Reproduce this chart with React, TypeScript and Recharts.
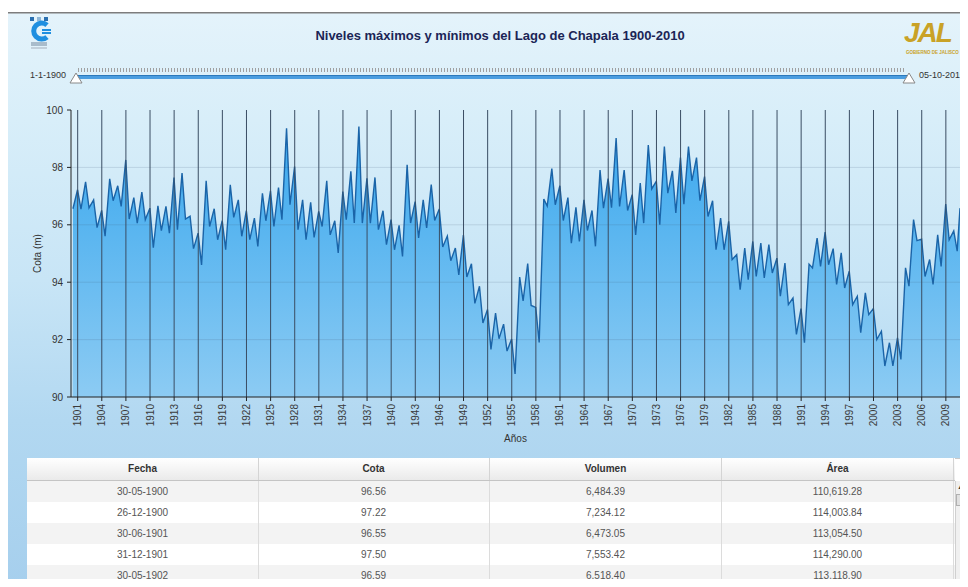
import React from "react";
import { Area, AreaChart, ReferenceLine, XAxis, YAxis } from "recharts";

// Niveles del lago: mínimo (fin de mayo) y máximo (diciembre) de cada año, desde 1900
const firstYear = 1900;
const minDate = "30-05";
const maxDate = "26-12";
const lastDate = "05-10-2010";

const minLevels = [
  96.56, 96.55, 96.59, 95.9, 95.6, 96.84, 96.64, 96.2, 96.06, 96.18, // 1900
  95.2, 95.8, 95.71, 95.83, 96.2, 95.17, 94.6, 95.94, 95.48, 95.13, // 1910
  96.26, 95.6, 95.48, 95.25, 96.14, 95.94, 96.18, 96.7, 95.83, 95.48, // 1920
  95.56, 95.94, 95.65, 95.02, 96.18, 96.06, 96.06, 96.06, 95.83, 95.31, // 1930
  95.13, 94.9, 96.06, 95.54, 95.89, 96.15, 95.23, 94.75, 94.25, 94.18, // 1940
  93.26, 92.58, 91.66, 92.03, 91.6, 90.8, 93.35, 93.19, 91.9, 96.65, // 1950
  96.7, 96.15, 95.36, 95.42, 95.8, 95.25, 96.58, 96.6, 96.64, 96.5, // 1960
  95.65, 96.06, 97.25, 96.0, 97.1, 96.41, 96.72, 97.53, 96.84, 96.29, // 1970
  95.13, 95.13, 94.79, 93.74, 94.09, 94.2, 94.15, 94.32, 93.51, 93.22, // 1980
  92.18, 91.89, 94.5, 94.55, 94.61, 93.92, 93.8, 93.22, 92.24, 92.87, // 1990
  92.0, 91.08, 91.08, 91.31, 93.86, 95.45, 94.2, 93.92, 94.55, 95.48, // 2000
  95.08, // 2010
];

const maxLevels = [
  97.22, 97.5, 96.87, 96.5, 97.6, 97.36, 98.26, 96.95, 97.14, 96.58, // 1900
  96.66, 96.64, 97.65, 97.8, 96.3, 95.71, 97.53, 96.56, 96.14, 97.39, // 1910
  96.87, 96.49, 96.23, 97.1, 97.18, 97.3, 99.36, 98.03, 96.87, 96.78, // 1920
  96.47, 97.53, 96.14, 97.16, 97.86, 99.42, 97.62, 97.65, 96.49, 96.18, // 1930
  95.98, 98.09, 96.81, 96.87, 97.4, 96.55, 95.61, 95.19, 95.64, 94.64, // 1940
  93.86, 93.05, 92.92, 92.54, 92.02, 94.18, 94.65, 93.12, 96.9, 97.96, // 1950
  97.36, 96.95, 96.61, 96.87, 96.5, 97.91, 97.61, 99.02, 97.91, 97.05, // 1960
  97.45, 98.78, 97.52, 98.73, 97.88, 98.34, 98.73, 98.34, 97.68, 96.84, // 1970
  96.23, 96.12, 94.96, 95.19, 95.42, 95.36, 95.31, 94.84, 94.67, 93.45, // 1980
  93.08, 94.63, 95.54, 95.75, 95.17, 95.02, 94.38, 93.51, 93.63, 93.08, // 1990
  92.29, 91.89, 92.06, 94.5, 96.18, 95.5, 94.79, 95.65, 96.72, 95.79, // 2000
  96.58, // 2010
];

const yearTicks = [
  1901, 1904, 1907, 1910, 1913, 1916, 1919, 1922, 1925, 1928, 1931, 1934, 1937,
  1940, 1943, 1946, 1949, 1952, 1955, 1958, 1961, 1964, 1967, 1970, 1973, 1976,
  1979, 1982, 1985, 1988, 1991, 1994, 1997, 2000, 2003, 2006, 2009,
];
const cotaTicks = [90, 92, 94, 96, 98, 100];

// tabla inferior
const tableHeaders = ["Fecha", "Cota", "Volumen", "Área"];
const tableFechas = ["30-05-1900", "26-12-1900", "30-06-1901", "31-12-1901", "30-05-1902"];
const tableCotas = ["96.56", "97.22", "96.55", "97.50", "96.59"];
const tableVolumenes = ["6,484.39", "7,234.12", "6,473.05", "7,553.42", "6,518.40"];
const tableAreas = ["110,619.28", "114,003.84", "113,054.50", "114,290.00", "113,118.90"];

const toYearFraction = (date: string) => {
  const [d, m, y] = date.split("-").map(Number);
  return y + (m - 1 + (d - 1) / 31) / 12;
};

const data: { t: number; cota: number }[] = [];
minLevels.forEach((v, i) => {
  const year = firstYear + i;
  data.push({ t: toYearFraction(`${minDate}-${year}`), cota: v });
  const maxAt = i === maxLevels.length - 1 ? lastDate : `${maxDate}-${year}`;
  data.push({ t: toYearFraction(maxAt), cota: maxLevels[i] });
});

const FONT = "'Liberation Sans', Arial, sans-serif";

const YearTick = (props: any) => {
  const { x, y, payload } = props;
  return (
    <text
      x={x}
      y={y}
      dy="0.35em"
      transform={`rotate(-90 ${x} ${y})`}
      textAnchor="end"
      fontSize={10}
      fill="#3a3a3a"
      fontFamily={FONT}
    >
      {payload.value}
    </text>
  );
};

const CotaLabel = (props: any) => {
  const vb = props.viewBox || { x: 0, y: 110, width: 71, height: 287 };
  const cx = vb.x + 37;
  const cy = vb.y + vb.height / 2;
  return (
    <text x={cx} y={cy} transform={`rotate(-90 ${cx} ${cy})`} textAnchor="middle" dy="0.35em" fontSize={10} fill="#333" fontFamily={FONT}>
      Cota (m)
    </text>
  );
};

const colLefts = [27, 258, 490, 722];
const colWidth = 232;

export default function App() {
  const rows = tableFechas.map((f, i) => [f, tableCotas[i], tableVolumenes[i], tableAreas[i]]);

  return (
    <div
      style={{
        position: "relative",
        width: 968,
        height: 587,
        margin: -8,
        overflow: "hidden",
        fontFamily: FONT,
        background:
          "linear-gradient(180deg, #ffffff 0px, #ffffff 12px, #7d7d7d 12px, #7d7d7d 13px, #e4f3fb 14px, #d8eef9 120px, #c8e5f6 280px, #b2d8f1 420px, #a6cfed 587px)",
      }}
    >
      {/* logo izquierdo */}
      <svg style={{ position: "absolute", left: 28, top: 16 }} width={26} height={36}>
        <rect x={2} y={1} width={4} height={4} fill="#2a6fb0" />
        <rect x={9} y={1} width={4} height={4} fill="#8fb7d8" />
        <rect x={16} y={1} width={4} height={4} fill="#2a6fb0" />
        <path d="M19 9 A8 8 0 1 0 19 21" stroke="#1f8fe0" strokeWidth={5} fill="none" />
        <rect x={14} y={13} width={9} height={2} fill="#1f8fe0" />
        <rect x={14} y={16} width={9} height={2} fill="#1f8fe0" />
        <rect x={3} y={26} width={16} height={4} fill="#a9bccb" />
        <rect x={3} y={31} width={16} height={2} fill="#c2d0db" />
      </svg>

      {/* logo derecho */}
      <div style={{ position: "absolute", left: 904, top: 18, color: "#c9a227", fontWeight: 900, fontStyle: "italic", fontSize: 28, letterSpacing: -2, lineHeight: "30px" }}>
        JAL
      </div>
      <div style={{ position: "absolute", left: 906, top: 50, color: "#c9a227", fontSize: 4.5, fontWeight: 700, whiteSpace: "nowrap" }}>
        GOBIERNO DE JALISCO
      </div>

      <div style={{ position: "absolute", left: 0, width: 1000, top: 28, textAlign: "center", fontSize: 13, fontWeight: 700, color: "#1b2556" }}>
        Niveles máximos y mínimos del Lago de Chapala 1900-2010
      </div>

      {/* control de rango */}
      <div style={{ position: "absolute", left: 30, top: 70, fontSize: 9, color: "#333" }}>1-1-1900</div>
      <div style={{ position: "absolute", left: 919, top: 70, fontSize: 9, color: "#333", whiteSpace: "nowrap" }}>05-10-2010</div>
      <div
        style={{
          position: "absolute",
          left: 78,
          top: 68,
          width: 828,
          height: 4,
          background: "repeating-linear-gradient(90deg, #a0a0a0 0px, #a0a0a0 1px, transparent 1px, transparent 3px)",
        }}
      />
      <div style={{ position: "absolute", left: 76, top: 75, width: 832, height: 3, background: "#4a9de0", borderTop: "1px solid #2a78bb" }} />
      <svg style={{ position: "absolute", left: 69, top: 72 }} width={14} height={12}>
        <polygon points="7,1 13,11 1,11" fill="#fff" stroke="#888" />
      </svg>
      <svg style={{ position: "absolute", left: 902, top: 72 }} width={14} height={12}>
        <polygon points="7,1 13,11 1,11" fill="#fff" stroke="#888" />
      </svg>

      <div style={{ position: "absolute", left: 0, top: 0 }}>
        <AreaChart width={968} height={450} data={data} margin={{ top: 110, right: 8, bottom: 0, left: 0 }}>
          <defs>
            <linearGradient id="cotaFill" x1="0" y1="0" x2="0" y2="1">
              <stop offset="0%" stopColor="#3aa8ee" />
              <stop offset="100%" stopColor="#8ccbf3" />
            </linearGradient>
          </defs>
          <XAxis
            dataKey="t"
            type="number"
            domain={[1900.17, "dataMax"]}
            ticks={yearTicks}
            interval={0}
            height={53}
            tick={(p: any) => <YearTick {...p} />}
            tickSize={4}
            tickMargin={3}
            stroke="#222"
            label={{ value: "Años", position: "insideBottom", offset: 8, fontSize: 10, fill: "#333" }}
          />
          <YAxis
            type="number"
            domain={[90, 100]}
            ticks={cotaTicks}
            width={71}
            tickSize={4}
            tickMargin={4}
            stroke="#222"
            tick={{ fontSize: 10, fill: "#333", fontFamily: FONT }}
            label={{ content: (p: any) => <CotaLabel {...p} /> }}
          />
          <Area
            type="linear"
            dataKey="cota"
            stroke="#1a64a8"
            strokeWidth={1.4}
            fill="url(#cotaFill)"
            fillOpacity={1}
            dot={false}
            activeDot={false}
            isAnimationActive={false}
          />
          {cotaTicks.slice(1, -1).map((v) => (
            <ReferenceLine key={`h${v}`} y={v} stroke="rgba(60,85,110,0.16)" strokeWidth={1} />
          ))}
          {yearTicks.map((yr) => (
            <ReferenceLine key={`v${yr}`} x={yr} stroke="#3a4d63" strokeWidth={1} />
          ))}
        </AreaChart>
      </div>

      {/* tabla */}
      <div style={{ position: "absolute", left: 27, top: 458, width: 941, height: 140, background: "#fff", border: "1px solid #c9c9c9", boxSizing: "border-box" }} />
      <div style={{ position: "absolute", left: 27, top: 458, width: 928, height: 22, background: "linear-gradient(180deg, #ffffff, #eaeaea)", borderBottom: "1px solid #c4c4c4" }} />
      {tableHeaders.map((h, c) => (
        <div
          key={h}
          style={{
            position: "absolute",
            left: colLefts[c],
            top: 458,
            width: colWidth,
            height: 22,
            lineHeight: "22px",
            textAlign: "center",
            fontSize: 10,
            fontWeight: 700,
            color: "#333",
            borderRight: "1px solid #d4d4d4",
            boxSizing: "border-box",
          }}
        >
          {h}
        </div>
      ))}
      {rows.map((r, i) => (
        <div key={i} style={{ position: "absolute", left: 27, top: 481 + i * 21, width: 928, height: 21, background: i % 2 === 0 ? "#f3f3f3" : "#ffffff" }}>
          {r.map((cell, c) => (
            <div
              key={c}
              style={{
                position: "absolute",
                left: colLefts[c] - 27,
                top: 0,
                width: colWidth,
                height: 21,
                lineHeight: "21px",
                textAlign: "center",
                fontSize: 10,
                color: "#555",
                borderRight: "1px solid #dcdcdc",
                boxSizing: "border-box",
              }}
            >
              {cell}
            </div>
          ))}
        </div>
      ))}
      {/* barra de desplazamiento */}
      <div style={{ position: "absolute", left: 955, top: 481, width: 13, height: 110, background: "#f0f0f0", borderLeft: "1px solid #d0d0d0" }} />
      <div style={{ position: "absolute", left: 957, top: 483, fontSize: 7, color: "#333" }}>▲</div>
      <div style={{ position: "absolute", left: 956, top: 494, width: 10, height: 10, background: "#e0e0e0", border: "1px solid #b0b0b0" }} />
      <div style={{ position: "absolute", left: 957, top: 577, fontSize: 7, color: "#333" }}>▼</div>
    </div>
  );
}
